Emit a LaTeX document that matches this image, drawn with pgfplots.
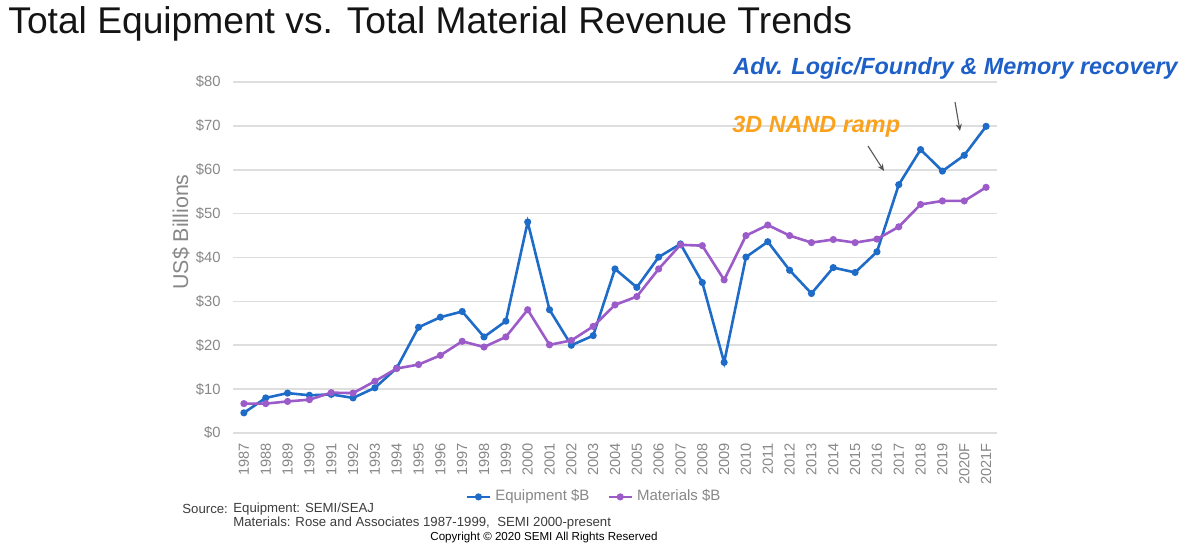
\documentclass[border=0pt]{standalone}
\usepackage{fontspec}
\setmainfont{Liberation Sans}
\usepackage{pgfplots}
\pgfplotsset{compat=1.18}
\usetikzlibrary{arrows.meta}
\definecolor{eqblue}{RGB}{31,107,200}
\definecolor{matpurple}{RGB}{155,91,201}
\definecolor{annblue}{RGB}{30,96,200}
\definecolor{annorange}{RGB}{250,162,30}
\definecolor{gridgray}{RGB}{222,222,222}
\definecolor{tickgray}{RGB}{135,135,135}
\definecolor{srcgray}{RGB}{60,60,60}
\definecolor{arrowgray}{RGB}{85,85,85}
\definecolor{titleblack}{RGB}{20,20,20}

\begin{document}
\begin{tikzpicture}
\begin{scope}[x=0.5pt,y=-0.5pt]
\path[use as bounding box] (0,0) rectangle (1200,559);
\end{scope}
\begin{axis}[
  at={(116.5pt,-216.5pt)}, anchor=south west,
  scale only axis, width=382pt, height=175.5pt,
  xmin=-0.5, xmax=34.5, ymin=0, ymax=80,
  axis line style={draw=none},
  ymajorgrids, grid style={gridgray, line width=0.8pt},
  major tick length=0pt,
  tick style={draw=none},
  ytick={0,10,20,30,40,50,60,70,80},
  yticklabels={\$0,\$10,\$20,\$30,\$40,\$50,\$60,\$70,\$80},
  xtick={0,...,34},
  xticklabels={1987,1988,1989,1990,1991,1992,1993,1994,1995,1996,1997,1998,1999,2000,2001,2002,2003,2004,2005,2006,2007,2008,2009,2010,2011,2012,2013,2014,2015,2016,2017,2018,2019,2020F,2021F},
  xticklabel style={font=\fontsize{7.3}{8}\selectfont, text=tickgray, rotate=90, anchor=east, inner sep=0pt},
  yticklabel style={font=\fontsize{7.4}{8}\selectfont, text=tickgray, anchor=east, inner sep=0pt},
  xticklabel shift=5pt,
  yticklabel shift=6pt,
  /pgf/number format/assume math mode=true,
  legend columns=2,
  legend cell align=left,
  legend style={at={(0.304,-0.182)}, anchor=west, draw=none, fill=none, inner sep=0pt,
    font=\fontsize{7.5}{9}\selectfont, text=tickgray,
    /tikz/every even column/.append style={column sep=7pt}},
  legend image code/.code={\draw[mark repeat=2,mark phase=2,#1] plot coordinates {(0pt,0pt) (5.75pt,0pt) (11.5pt,0pt)};},
]
\addplot[eqblue, line width=1.3pt, mark=*, mark size=1.1pt] coordinates {
(0,4.6) (1,8.0) (2,9.1) (3,8.6) (4,8.8) (5,8.0) (6,10.3) (7,14.8) (8,24.1) (9,26.4)
(10,27.7) (11,21.9) (12,25.5) (13,48.1) (14,28.1) (15,20.0) (16,22.2) (17,37.4) (18,33.2) (19,40.1)
(20,43.1) (21,34.3) (22,16.1) (23,40.1) (24,43.6) (25,37.1) (26,31.8) (27,37.7) (28,36.6) (29,41.3)
(30,56.6) (31,64.6) (32,59.7) (33,63.3) (34,69.9)};
\addlegendentry{Equipment \$B}
\addplot[matpurple, line width=1.3pt, mark=*, mark size=1.1pt] coordinates {
(0,6.7) (1,6.7) (2,7.2) (3,7.6) (4,9.2) (5,9.1) (6,11.8) (7,14.7) (8,15.6) (9,17.7)
(10,20.9) (11,19.6) (12,21.9) (13,28.1) (14,20.1) (15,21.1) (16,24.3) (17,29.2) (18,31.1) (19,37.4)
(20,42.9) (21,42.7) (22,34.9) (23,45.0) (24,47.4) (25,45.0) (26,43.4) (27,44.1) (28,43.4) (29,44.2)
(30,47.0) (31,52.1) (32,52.9) (33,52.9) (34,56.0)};
\addlegendentry{Materials \$B}
\end{axis}
\begin{scope}[x=0.5pt,y=-0.5pt]
\node[anchor=base west, inner sep=0pt, font=\fontsize{18.6}{22}\selectfont, text=titleblack] at (8,33) {Total Equipment vs. Total Material Revenue Trends};
\node[rotate=90, inner sep=0pt, font=\fontsize{10.7}{13}\selectfont, text=tickgray] at (181,232) {US\$ Billions};
\node[anchor=west, inner sep=0pt, font=\fontsize{11.7}{14}\selectfont\bfseries\itshape, text=annblue] at (733,68) {Adv. Logic/Foundry \& Memory recovery};
\node[anchor=west, inner sep=0pt, font=\fontsize{11.7}{14}\selectfont\bfseries\itshape, text=annorange] at (732,127) {3D NAND ramp};
\draw[-{Stealth[length=3.5pt,width=3pt]}, line width=0.55pt, draw=arrowgray] (868,146) -- (884,171);
\draw[-{Stealth[length=3.5pt,width=3pt]}, line width=0.55pt, draw=arrowgray] (955,102) -- (960,131);
\node[anchor=west, inner sep=0pt, font=\fontsize{6.6}{8}\selectfont, text=srcgray] at (182,509) {Source:};
\node[anchor=west, inner sep=0pt, font=\fontsize{6.6}{8}\selectfont, text=srcgray] at (233,509) {Equipment: SEMI/SEAJ};
\node[anchor=west, inner sep=0pt, font=\fontsize{6.6}{8}\selectfont, text=srcgray] at (233,523) {Materials: Rose and Associates 1987-1999,\ \ SEMI 2000-present};
\node[anchor=west, inner sep=0pt, font=\fontsize{5.8}{7}\selectfont, text=black] at (430,537) {Copyright © 2020 SEMI All Rights Reserved};
\end{scope}
\end{tikzpicture}
\end{document}
